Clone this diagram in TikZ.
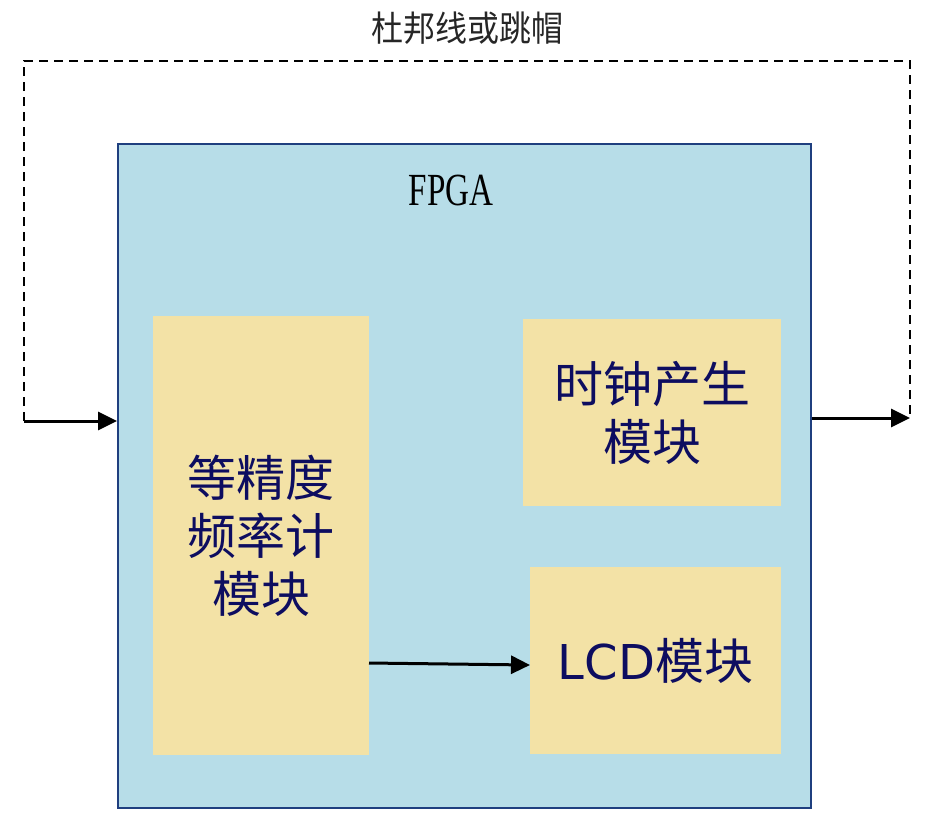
\documentclass[tikz,border=0pt]{standalone}
\usepackage{fontspec}
\setmainfont{Liberation Serif}
\newfontfamily\cjk{Noto Sans CJK SC}
\newfontfamily\lsans{DejaVu Sans}
\usetikzlibrary{arrows.meta}
\definecolor{fpgablue}{HTML}{B7DDE8}
\definecolor{fpgaedge}{HTML}{1F3F7F}
\definecolor{blockyel}{HTML}{F3E2A6}
\definecolor{navytext}{HTML}{0D0D60}
\tikzset{
  blockbox/.style={fill=blockyel, draw=none, inner sep=0pt, align=center,
    text=navytext, font=\cjk\fontsize{49}{58}\selectfont},
  sig/.style={line width=3pt, -{Triangle[length=19pt,width=18pt]}},
  jumper/.style={line width=2.4pt, dashed, dash pattern=on 9pt off 6pt}
}
\begin{document}
\begin{tikzpicture}[x=1pt,y=-1pt]
\useasboundingbox (0,0) rectangle (933,831);
% FPGA
\node[fill=fpgablue, draw=fpgaedge, line width=2pt, minimum width=693pt, minimum height=664pt, inner sep=0pt] (fpga) at (464.5,476) {};
\node[font=\fontsize{46}{46}\selectfont] (fpgalbl) at (451,190) {\scalebox{0.72}[1]{FPGA}};
% blocks
\node[blockbox, minimum width=216pt, minimum height=439pt] (freq) at (261,535.5) {等精度\\频率计\\模块};
\node[blockbox, minimum width=258pt, minimum height=187pt] (clk) at (652,412.5) {时钟产生\\模块};
\node[blockbox, minimum width=251pt, minimum height=187pt] (lcd) at (655.5,660.5) {{\lsans\fontsize{48}{50}\selectfont LCD}模块};
% top label
\node[font=\cjk\fontsize{32}{32}\selectfont, text=black!85] (jlbl) at (467,28) {\scalebox{1}[1.1]{杜邦线或跳帽}};
% coordinates
\coordinate (inL) at (24,421);
\coordinate (topL) at (24,61);
\coordinate (topR) at (910,61);
\coordinate (outR) at (910,418);
\coordinate (m1) at (369,663);
\coordinate (m2) at (530,665);
% connectors
\draw[jumper] (inL) -- (topL) -- (topR) -- (outR);
\draw[sig] (inL) -- (inL -| fpga.west);
\draw[sig] (outR -| fpga.east) -- (outR);
\draw[sig] (m1) -- (m2);
\end{tikzpicture}
\end{document}
